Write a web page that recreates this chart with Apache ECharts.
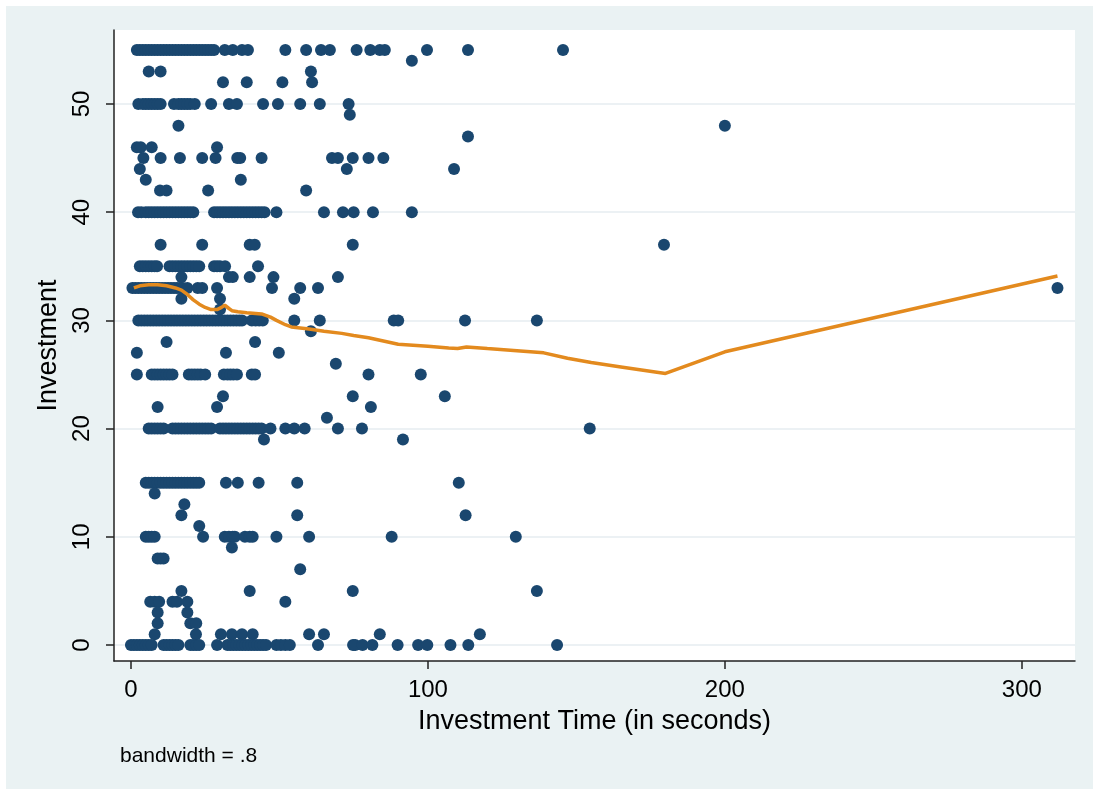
<!DOCTYPE html>
<html>
<head>
    <meta charset="UTF-8">
    <title>Investment lowess</title>
    <script src="https://cdn.jsdelivr.net/npm/echarts@6/dist/echarts.min.js"></script>
    <style>
        body { margin: 0; background: #ffffff; }
        #main { position: absolute; left: 6px; top: 6px; width: 1087px; height: 783px; }
    </style>
</head>
<body>
<div id="main"></div>
<script>
    // investment levels and the times (sec) observed at each level
    var investLevels = [55, 54, 53, 52, 50, 49, 48, 47, 46, 45, 44, 43, 42, 40, 37, 35, 34, 33, 32, 31, 30,
        29, 28, 27, 26, 25, 23, 22, 21, 20, 19, 15, 14, 13, 12, 11, 10, 9, 8, 7, 5, 4, 3, 2, 1, 0];
    var timesAtLevel = [
        [2,3,4,5,6,7,8,9,10,11,12,13,14,15,16,17,18,19,20,21,22,23,24,25,26,27,28,31.6,34.3,37.4,39.4,52,59,64,67,76,80.6,83.8,85.5,99.7,113.5,145.5],
        [94.6],
        [6,10,60.6],
        [31,39,51,61],
        [2.5,4,5,6,7,8,9,10,14.5,16,17,18,19,20,21.5,27,33,35.7,44.5,49.5,57,63.6,73.3],
        [73.7],
        [16,200],
        [113.5],
        [2,3.3,7,29],
        [4.2,10,16.5,24,28.5,35.8,36.8,44,67.7,69.7,74.7,80,85],
        [3,72.7,108.8],
        [5,37],
        [9.8,12,26,59],
        [2.4,3.5,5,6,7,8,9,10,11,12,13,14,15,16,17,18,19,20,21,28,29,30,31,32,33,34,35,36,37,38,39,40,41,42,43,44,45,49,65,71.4,75,81.5,94.6],
        [10,24,40,41.7,74.7,179.5],
        [3,4,5,6,7,8,8.8,13,14,15,16,17,18,19,20,21,22,23,28,29,30,31.7,42.8],
        [17,33,34.3,40,48,69.7],
        [0.5,1.5,2.5,3.5,4.5,5.5,6.5,7.5,8.5,9.5,10.5,11.5,12.5,13.5,14.5,15.5,16.5,17.5,19,22.5,24,29,47.5,57,63,312],
        [17,30,55],
        [30],
        [2.5,3.5,4.5,5.5,6.5,7.5,8.5,9.5,10.5,11.5,12.5,13.5,14.5,15.5,16.5,17.5,18.5,19.5,20.5,21.5,22.5,23.5,24.5,25.5,26.5,27.5,28.5,29.5,30.5,31.5,32.5,33.5,34.5,35.5,36.5,37.4,40.7,42,43.2,44.4,55,63.6,88.5,90,112.5,136.7],
        [60.6],
        [12,41.8],
        [2,32,49.8],
        [69],
        [2,7,8,9,10,11,12,13,14,19.5,20.5,21.5,22.5,23.5,25,31.3,32.5,33.5,34.5,35.7,40.7,41.8,80,97.6],
        [31,74.7,105.7],
        [9,29,80.8],
        [66],
        [6,7,8,9,10,11,14,15,16,17,18,19,20,21,22,23,24,25,26,27,30,31,32,33,34,35,36,37,38,39,40,41,42,43,44,47,52,55,58.5,69.7,77.8,154.5],
        [44.8,91.6],
        [5,6,7,8,9,10,11,12,13,14,15,16,17,18,19,20,21,22,23,32,36,43,56,110.4],
        [8],
        [18],
        [17,56,112.7],
        [23],
        [5,6,7,8,24.3,31.6,33,34.3,35,38.4,40,41,49,60,87.8,129.6],
        [34],
        [9,10,11],
        [57],
        [17,40,74.7,136.7],
        [6.5,8,9.5,14,15.5,19,52],
        [9,19],
        [9,20,22],
        [8,21.9,30.3,34,37.4,41,60,65,83.8,117.5],
        [0,1,2,3,4,5,6,7,11,12,13,14,15,16,20,21,22,23,29,32.5,33.5,34.5,35.5,36.5,37.5,38.5,39.5,40.5,41.5,42.5,43.5,44.5,45.5,49,50.5,52,53.5,63,74.8,75.5,78,81.3,89.8,96.7,99.8,107.6,113.6,143.5]
    ];

    // lowess smooth (bandwidth .8)
    var lowessTime = [1,3,6,9,12,15,17,19,21,23,25,27,29,30.5,31.6,33,34,36,39,44,47,49,52,54,57,60,65,71,75,80,90,100,107,110,113,120,130,139,147,155,165,180,200,312];
    var lowessFit = [33.0,33.2,33.3,33.3,33.2,33.0,32.8,32.4,31.9,31.5,31.2,31.0,31.0,31.2,31.4,31.1,30.9,30.8,30.7,30.6,30.3,30.0,29.6,29.4,29.3,29.2,29.0,28.8,28.6,28.4,27.8,27.6,27.45,27.4,27.55,27.4,27.2,27.0,26.5,26.1,25.7,25.1,27.1,34.1];

    var xTicks = [0, 100, 200, 300];
    var yTicks = [0, 10, 20, 30, 40, 50];

    var scatterData = [];
    investLevels.forEach(function (lvl, i) {
        timesAtLevel[i].forEach(function (t) { scatterData.push([t, lvl]); });
    });
    var lineData = lowessTime.map(function (t, i) { return [t, lowessFit[i]]; });

    var font = 'Liberation Sans, Arial, sans-serif';
    var option = {
        backgroundColor: '#eaf2f3',
        animation: false,
        grid: {
            left: 108, right: 18, top: 24, bottom: 128,
            show: true, backgroundColor: '#ffffff', borderWidth: 0
        },
        xAxis: {
            type: 'value', min: -5.7, max: 317.9,
            name: 'Investment Time (in seconds)', nameLocation: 'middle', nameGap: 47,
            nameTextStyle: { fontSize: 27, color: '#000', fontFamily: font },
            axisLine: { show: true, onZero: false, lineStyle: { color: '#222', width: 1.5 } },
            axisTick: { show: true, length: 8, customValues: xTicks, lineStyle: { color: '#222', width: 1.5 } },
            axisLabel: { customValues: xTicks, fontSize: 24, color: '#000', fontFamily: font, margin: 17 },
            splitLine: { show: false }
        },
        yAxis: {
            type: 'value', min: -1.48, max: 56.84,
            name: 'Investment', nameLocation: 'middle', nameGap: 50,
            nameTextStyle: { fontSize: 27, color: '#000', fontFamily: font },
            axisLine: { show: true, onZero: false, lineStyle: { color: '#222', width: 1.5 } },
            axisTick: { show: true, length: 8, customValues: yTicks, lineStyle: { color: '#222', width: 1.5 } },
            axisLabel: { customValues: yTicks, rotate: 90, fontSize: 24, color: '#000', fontFamily: font, margin: 20 },
            splitLine: { show: true, lineStyle: { color: '#e6edf0', width: 1.5 } }
        },
        graphic: [{
            type: 'text', left: 114, top: 740,
            style: { text: 'bandwidth = .8', fontSize: 21, fill: '#000', fontFamily: font }
        }],
        series: [
            {
                type: 'scatter', data: scatterData, symbolSize: 12,
                itemStyle: { color: '#1a476f', opacity: 1 }, z: 2
            },
            {
                type: 'line', data: lineData, showSymbol: false, smooth: false,
                lineStyle: { color: '#e38a1e', width: 3.5 }, z: 3
            }
        ]
    };
    var myChart = echarts.init(document.getElementById('main'));
    myChart.setOption(option);
</script>
</body>
</html>
